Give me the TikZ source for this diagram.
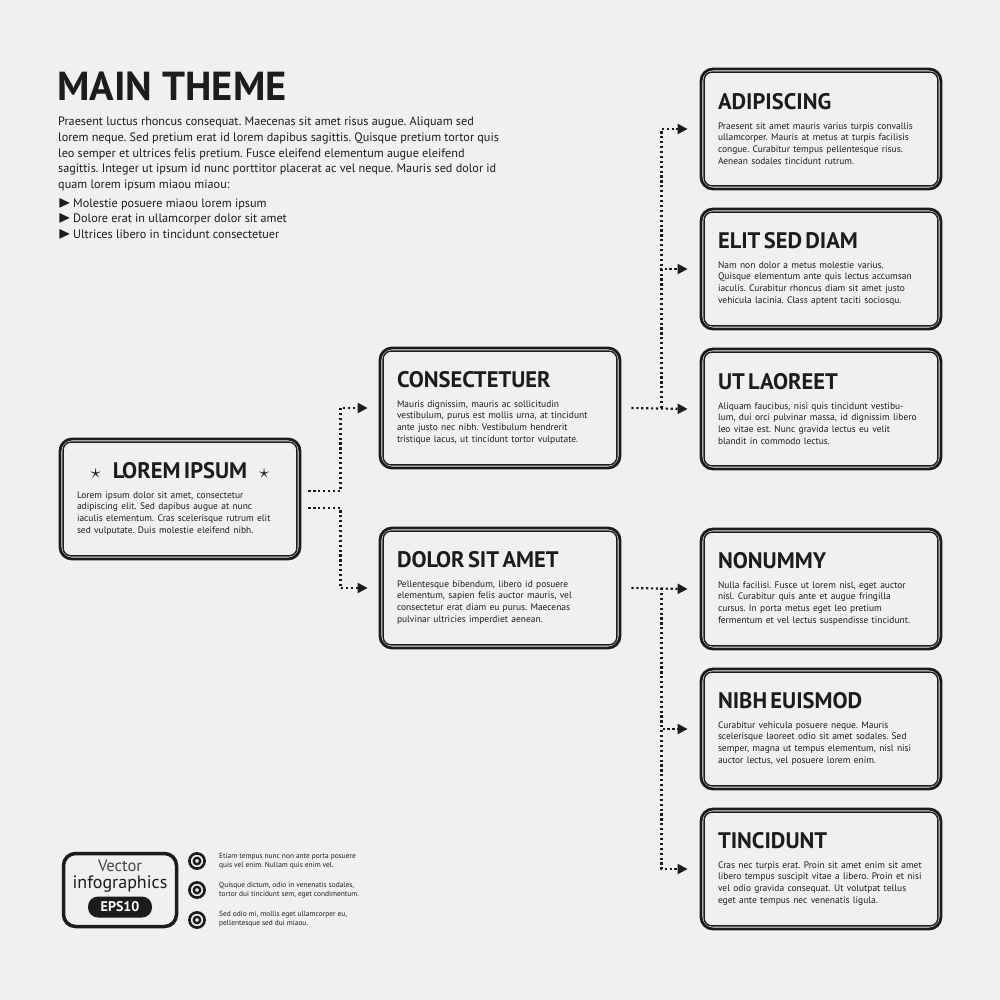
\documentclass[tikz,border=0pt]{standalone}
\usepackage{amsmath}
\usepackage{amssymb}
\usepackage{fontspec}
\setmainfont{PT Sans}
\newfontfamily\headfam{PT Sans}[WordSpace=1.8]
\usetikzlibrary{arrows.meta}
\definecolor{paper}{RGB}{240,240,240}
\definecolor{ink}{RGB}{28,28,28}
\definecolor{softink}{RGB}{70,70,70}
\newcommand{\titlefont}{\fontsize{40.5}{46}\selectfont\bfseries}
\newcommand{\leadfont}{\fontsize{12.2}{15.6}\selectfont\frenchspacing}
\newcommand{\headfont}{\headfam\fontsize{22.5}{25}\selectfont\bfseries}
\newcommand{\cardfont}{\normalfont\fontsize{9.45}{11.8}\selectfont\frenchspacing}
\newcommand{\notefont}{\fontsize{7.4}{9.2}\selectfont\frenchspacing}
\newcommand{\tick}{\makebox[15pt][l]{\scalebox{1.35}{$\blacktriangleright$}}}

\begin{document}
\begin{tikzpicture}[x=1pt,y=-1pt]
						\tikzstyle{card}=[draw=ink,line width=2.8pt,rounded corners=12pt,minimum width=240pt,minimum height=120pt,inner sep=0pt,text width=206pt,align=left,text=ink]
						\tikzstyle{rim}=[draw=ink,line width=1.4pt,rounded corners=8pt]
						\tikzstyle{link}=[draw=ink,line width=2.2pt,dash pattern=on 2.2pt off 2.7pt,-{Triangle[length=10pt,width=10pt]}]
						\tikzstyle{plain}=[inner sep=0pt,align=left,text=ink]
						\fill[paper] (0,0) rectangle (1000,1000);
						\node[plain,anchor=base west,font=\titlefont] (title) at (57,101) {MAIN THEME};
						\node[plain,anchor=north west,font=\leadfont] (lead) at (58,117) {Praesent luctus rhoncus consequat. Maecenas sit amet risus augue. Aliquam sed\\lorem neque. Sed pretium erat id lorem dapibus sagittis. Quisque pretium tortor quis\\leo semper et ultrices felis pretium. Fusce eleifend elementum augue eleifend\\sagittis. Integer ut ipsum id nunc porttitor placerat ac vel neque. Mauris sed dolor id\\quam lorem ipsum miaou miaou:};
						\node[plain,anchor=north west,font=\leadfont] (list) at (58,198) {\tick Molestie posuere miaou lorem ipsum\\\tick Dolore erat in ullamcorper dolor sit amet\\\tick Ultrices libero in tincidunt consectetuer};
						\node[card] (lorem) at (180,499) {\makebox[206pt]{\headfont$\star$\hspace{12pt}LOREM IPSUM\hspace{12pt}$\star$}\\[8pt]\cardfont Lorem ipsum dolor sit amet, consectetur\\adipiscing elit. Sed dapibus augue at nunc\\iaculis elementum. Cras scelerisque rutrum elit\\sed vulputate. Duis molestie eleifend nibh.};
						\node[card] (consect) at (500,408) {\headfont CONSECTETUER\\[8pt]\cardfont Mauris dignissim, mauris ac sollicitudin\\vestibulum, purus est mollis urna, at tincidunt\\ante justo nec nibh. Vestibulum hendrerit\\tristique lacus, ut tincidunt tortor vulputate.};
						\node[card] (dolor) at (500,588) {\headfont DOLOR SIT AMET\\[8pt]\cardfont Pellentesque bibendum, libero id posuere\\elementum, sapien felis auctor mauris, vel\\consectetur erat diam eu purus. Maecenas\\pulvinar ultricies imperdiet aenean.};
						\node[card] (adip) at (821,129) {\headfont ADIPISCING\\[8pt]\cardfont Praesent sit amet mauris varius turpis convallis\\ullamcorper. Mauris at metus at turpis facilisis\\congue. Curabitur tempus pellentesque risus.\\Aenean sodales tincidunt rutrum.};
						\node[card] (elit) at (821,269) {\headfont ELIT SED DIAM\\[8pt]\cardfont Nam non dolor a metus molestie varius.\\Quisque elementum ante quis lectus accumsan\\iaculis. Curabitur rhoncus diam sit amet justo\\vehicula lacinia. Class aptent taciti sociosqu.};
						\node[card] (ut) at (821,409) {\headfont UT LAOREET\\[8pt]\cardfont Aliquam faucibus, nisi quis tincidunt vestibu-\\lum, dui orci pulvinar massa, id dignissim libero\\leo vitae est. Nunc gravida lectus eu velit\\blandit in commodo lectus.};
						\node[card] (nonummy) at (821,589) {\headfont NONUMMY\\[8pt]\cardfont Nulla facilisi. Fusce ut lorem nisl, eget auctor\\nisl. Curabitur quis ante et augue fringilla\\cursus. In porta metus eget leo pretium\\fermentum et vel lectus suspendisse tincidunt.};
						\node[card] (nibh) at (821,729) {\headfont NIBH EUISMOD\\[8pt]\cardfont Curabitur vehicula posuere neque. Mauris\\scelerisque laoreet odio sit amet sodales. Sed\\semper, magna ut tempus elementum, nisl nisi\\auctor lectus, vel posuere lorem enim.};
						\node[card] (tinc) at (821,869) {\headfont TINCIDUNT\\[8pt]\cardfont Cras nec turpis erat. Proin sit amet enim sit amet\\libero tempus suscipit vitae a libero. Proin et nisi\\vel odio gravida consequat. Ut volutpat tellus\\eget ante tempus nec venenatis ligula.};
						\foreach \n in {lorem,consect,dolor,adip,elit,ut,nonummy,nibh,tinc}
							\draw[rim] ([shift={(4.5pt,-4.5pt)}]\n.north west) rectangle ([shift={(-4.5pt,4.5pt)}]\n.south east);
						\draw[link] ([xshift=7pt,yshift=8pt]lorem.east) -- ++(32,0) |- ([xshift=-11pt]consect.west);
						\draw[link] ([xshift=7pt,yshift=-9pt]lorem.east) -- ++(32,0) |- ([xshift=-11pt]dolor.west);
						\draw[link] ([xshift=10pt]consect.east) -- ([xshift=-12pt]ut.west);
						\draw[link] ([xshift=40pt]consect.east) |- ([xshift=-12pt]adip.west);
						\draw[link] ([xshift=40pt]consect.east) |- ([xshift=-12pt]elit.west);
						\draw[link] ([xshift=10pt]dolor.east) -- ([xshift=-12pt]nonummy.west);
						\draw[link] ([xshift=40pt]dolor.east) |- ([xshift=-12pt]nibh.west);
						\draw[link] ([xshift=40pt]dolor.east) |- ([xshift=-12pt]tinc.west);
						\node[draw=ink,line width=3.5pt,rounded corners=12pt,minimum width=113pt,minimum height=73pt] (logo) at (120,890) {};
						\node[plain,align=center,font=\fontsize{16.5}{17}\selectfont] (brand) at (120,876) {{\color{softink}Vector}\\{\fontsize{18}{17}\selectfont infographics}};
						\node[fill=ink,text=white,rounded corners=10pt,minimum width=64pt,minimum height=21pt,inner sep=0pt,font=\fontsize{14}{14}\selectfont\bfseries] (eps) at (120,907) {EPS10};
						\foreach \y in {861,890,920} {
							\draw[ink,line width=2.6pt] (197,\y) circle (7.6pt);
							\draw[ink,line width=2.4pt] (197,\y) circle (3.2pt);
						}
						\node[plain,anchor=west,font=\notefont] (note1) at (219,861) {Etiam tempus nunc non ante porta posuere\\quis vel enim. Nullam quis enim vel.};
						\node[plain,anchor=west,font=\notefont] (note2) at (219,890) {Quisque dictum, odio in venenatis sodales,\\tortor dui tincidunt sem, eget condimentum.};
						\node[plain,anchor=west,font=\notefont] (note3) at (219,919) {Sed odio mi, mollis eget ullamcorper eu,\\pellentesque sed dui miaou.};
\end{tikzpicture}
\end{document}
